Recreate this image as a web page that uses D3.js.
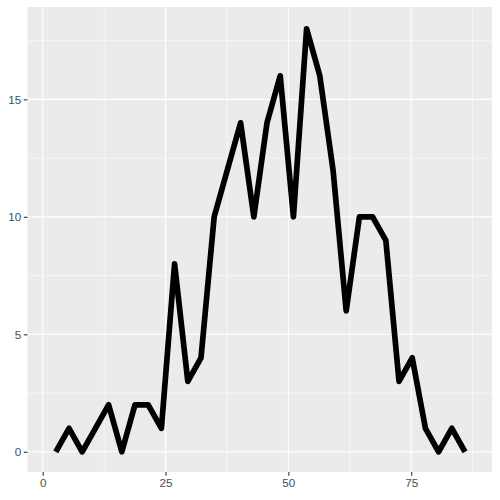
<!DOCTYPE html>
<html><head><meta charset="utf-8">
<script src="https://cdn.jsdelivr.net/npm/d3@7"></script>
<style>body{margin:0;background:#fff}svg{display:block}</style>
</head><body>
<svg id="c" width="500" height="500"></svg>
<script>
const xValues = [2.66, 5.35, 8.03, 10.72, 13.41, 16.1, 18.78, 21.47, 24.16, 26.84, 29.53, 32.22, 34.9, 37.59, 40.28, 42.97, 45.65, 48.34, 51.03, 53.71, 56.4, 59.09, 61.77, 64.46, 67.15, 69.84, 72.52, 75.21, 77.9, 80.58, 83.27, 85.96];
const counts = [0, 1, 0, 1, 2, 0, 2, 2, 1, 8, 3, 4, 10, 12, 14, 10, 14, 16, 10, 18, 16, 12, 6, 10, 10, 9, 3, 4, 1, 0, 1, 0];
const xTicks = [0, 25, 50, 75];
const xMinor = [12.5, 37.5, 62.5, 87.5];
const yTicks = [0, 5, 10, 15];
const yMinor = [2.5, 7.5, 12.5, 17.5];

const svg = d3.select('#c');
const L = 27.5, R = 492, T = 7, B = 472;
const x = d3.scaleLinear().domain([-3.1, 91.45]).range([L, R]);
const y = d3.scaleLinear().domain([-0.86, 18.93]).range([B, T]);

svg.append('rect').attr('x', L).attr('y', T).attr('width', R - L).attr('height', B - T).attr('fill', '#EBEBEB');
const g = svg.append('g');
g.selectAll('.xm').data(xMinor).join('line').attr('x1', d => x(d)).attr('x2', d => x(d)).attr('y1', T).attr('y2', B).attr('stroke', '#fff').attr('stroke-width', 0.55);
g.selectAll('.ym').data(yMinor).join('line').attr('y1', d => y(d)).attr('y2', d => y(d)).attr('x1', L).attr('x2', R).attr('stroke', '#fff').attr('stroke-width', 0.55);
g.selectAll('.xM').data(xTicks).join('line').attr('x1', d => x(d)).attr('x2', d => x(d)).attr('y1', T).attr('y2', B).attr('stroke', '#fff').attr('stroke-width', 1.1);
g.selectAll('.yM').data(yTicks).join('line').attr('y1', d => y(d)).attr('y2', d => y(d)).attr('x1', L).attr('x2', R).attr('stroke', '#fff').attr('stroke-width', 1.1);

const line = d3.line().x((d, i) => x(xValues[i])).y(d => y(d));
svg.append('path').datum(counts).attr('d', line).attr('fill', 'none').attr('stroke', '#000').attr('stroke-width', 5.7).attr('stroke-linejoin', 'round').attr('stroke-linecap', 'butt');

const xAxis = svg.append('g').attr('transform', `translate(0,${B})`).call(d3.axisBottom(x).tickValues(xTicks).tickSize(3.7).tickPadding(2.5).tickFormat(d3.format('d')));
const yAxis = svg.append('g').attr('transform', `translate(${L},0)`).call(d3.axisLeft(y).tickValues(yTicks).tickSize(3.7).tickPadding(2.5).tickFormat(d3.format('d')));
[xAxis, yAxis].forEach(a => {
  a.select('.domain').remove();
  a.selectAll('.tick line').attr('stroke', '#333333').attr('stroke-width', 1.1);
  a.selectAll('.tick text').attr('fill', '#4D4D4D').style('font-family', 'Liberation Sans, Arial, sans-serif').style('font-size', '11.7px');
});
</script>
</body></html>
